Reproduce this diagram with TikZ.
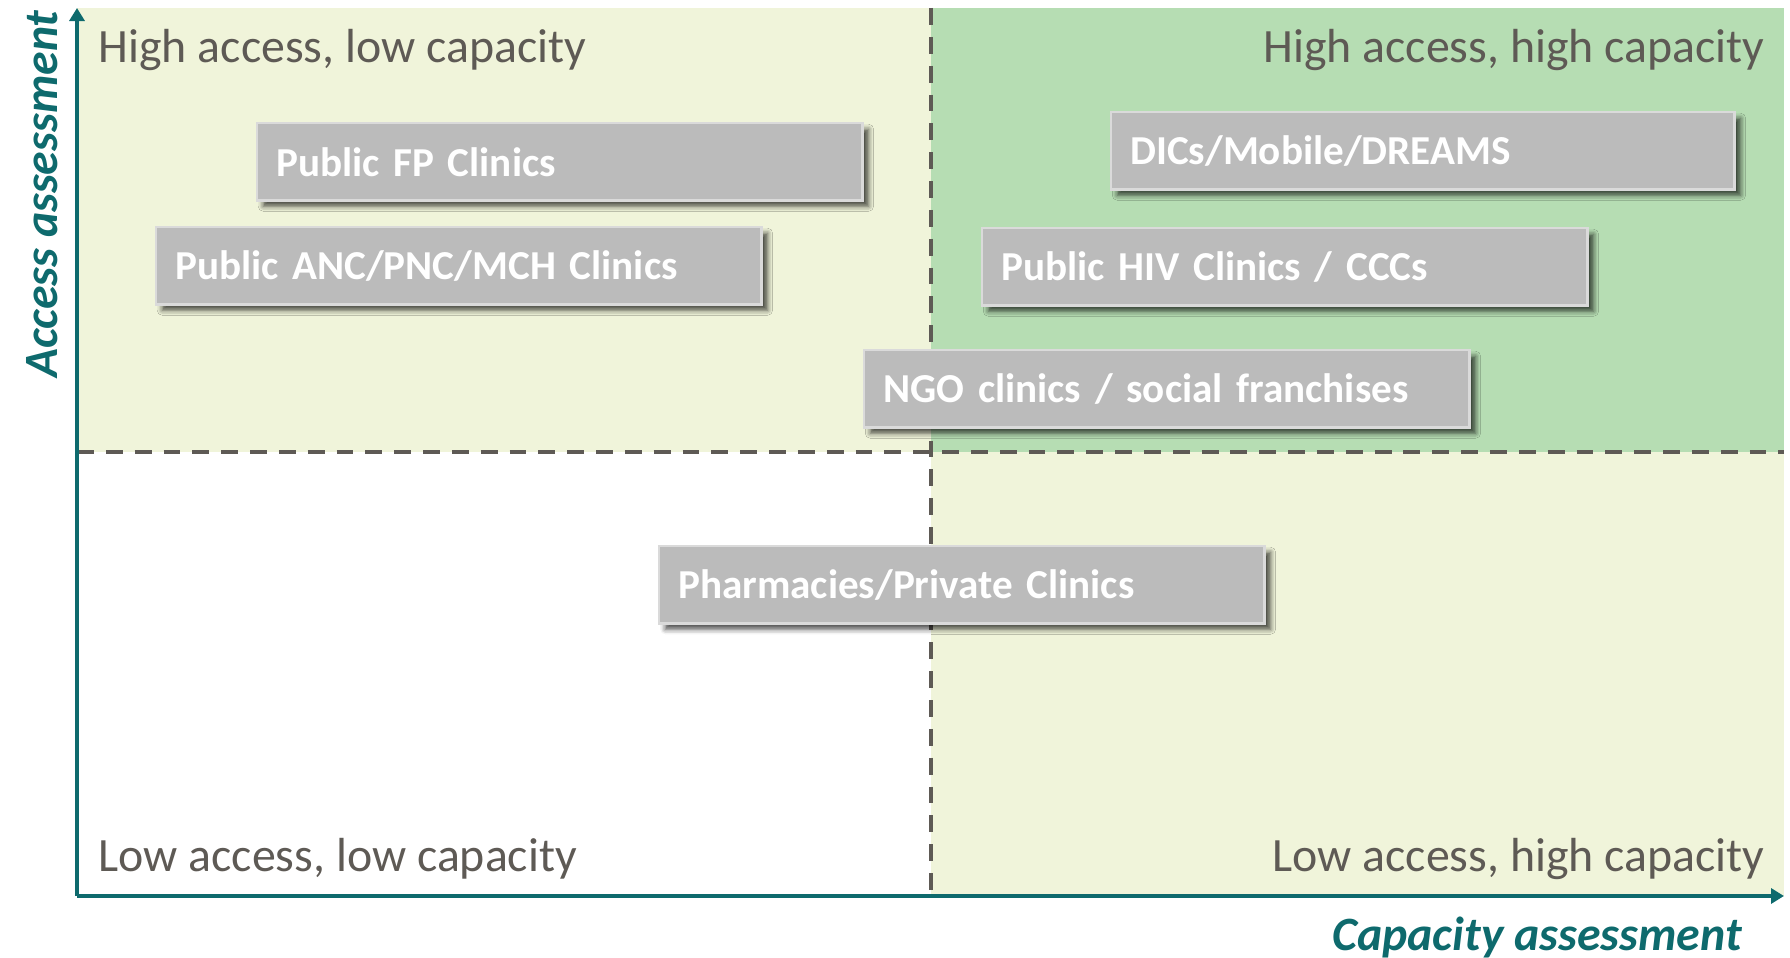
\documentclass[tikz,border=0pt]{standalone}
\usepackage{fontspec}
\setmainfont{Carlito}
\usetikzlibrary{arrows.meta}
\usetikzlibrary{positioning}
\usetikzlibrary{shadows.blur}

\definecolor{quadyellow}{HTML}{F0F4DA}
\definecolor{quadgreen}{HTML}{B6DDB3}
\definecolor{axisteal}{HTML}{0E6A6D}
\definecolor{labelgray}{HTML}{5E5A55}
\definecolor{boxgray}{HTML}{BBBBBB}
\definecolor{boxline}{HTML}{DADADA}

\begin{document}
\begin{tikzpicture}[x=0.01cm,y=-0.01cm]
				\tikzset{channel/.style = {shape=rectangle, draw=boxline, line width=0.7pt, fill=boxgray, anchor=north west,
						inner xsep=0.19cm, text width=5.67cm, minimum height=0.77cm, align=left, text=white,
						font=\fontsize{11.7}{14}\selectfont\bfseries,
						blur shadow={shadow xshift=0.6mm, shadow yshift=-0.6mm, shadow blur radius=0.5mm, shadow opacity=70}}}
				\tikzset{quadrant/.style = {text=labelgray, inner sep=0pt, font=\fontsize{13.6}{16}\selectfont}}
				\tikzset{axistitle/.style = {text=axisteal, inner sep=0pt, font=\fontsize{13.6}{16}\selectfont\bfseries\itshape}}
				\tikzset{divider/.style = {draw=labelgray, line width=1.1pt, dash pattern=on 4.8pt off 3.4pt}}
				
				\useasboundingbox (0,0) rectangle (1790,958);
				
				% quadrant backgrounds
				\fill[quadyellow] (77,8) rectangle (931,452);
				\fill[quadgreen] (931,8) rectangle (1784,452);
				\fill[quadyellow] (931,452) rectangle (1784,896);
				
				\coordinate (ORIGIN) at (77,896);
				\coordinate (XEND) at (1784,896);
				\coordinate (YEND) at (77,8);
				\coordinate (MIDTOP) at (931,8);
				\coordinate (MIDBOT) at (931,896);
				\coordinate (MIDLEFT) at (77,452);
				\coordinate (MIDRIGHT) at (1784,452);
				
				\draw[divider] (MIDTOP) -- (MIDBOT);
				\draw[divider] (MIDLEFT) -- (MIDRIGHT);
				
				\draw[axisteal, line width=1.2pt, -{Triangle[length=1.3mm, width=1.5mm]}] (ORIGIN) -- (XEND);
				\draw[axisteal, line width=1.2pt, -{Triangle[length=1.3mm, width=1.5mm]}] (ORIGIN) -- (YEND);
				
				\node[quadrant, anchor=base west] (HALC) at (98,63) {High access, low capacity};
				\node[quadrant, anchor=base east] (HAHC) at (1765,63) {High access, high capacity};
				\node[quadrant, anchor=base west] (LALC) at (98,872) {Low access, low capacity};
				\node[quadrant, anchor=base east] (LAHC) at (1765,872) {Low access, high capacity};
				
				\node[axistitle, rotate=90] (ACCESS) at (42,194) {Access assessment};
				\node[axistitle] (CAPACITY) at (1537,937) {Capacity assessment};
				
				\node[channel] (FP) at (256,122) {Public FP Clinics};
				\node[channel] (ANC) at (155,226) {Public ANC/PNC/MCH Clinics};
				\node[channel, text width=5.85cm] (DIC) at (1110,111) {DICs/Mobile/DREAMS};
				\node[channel] (HIV) at (981,227) {Public HIV Clinics / CCCs};
				\node[channel] (NGO) at (863,349) {NGO clinics / social franchises};
				\node[channel] (PHARM) at (658,545) {Pharmacies/Private Clinics};
				
				\end{tikzpicture}
\end{document}
